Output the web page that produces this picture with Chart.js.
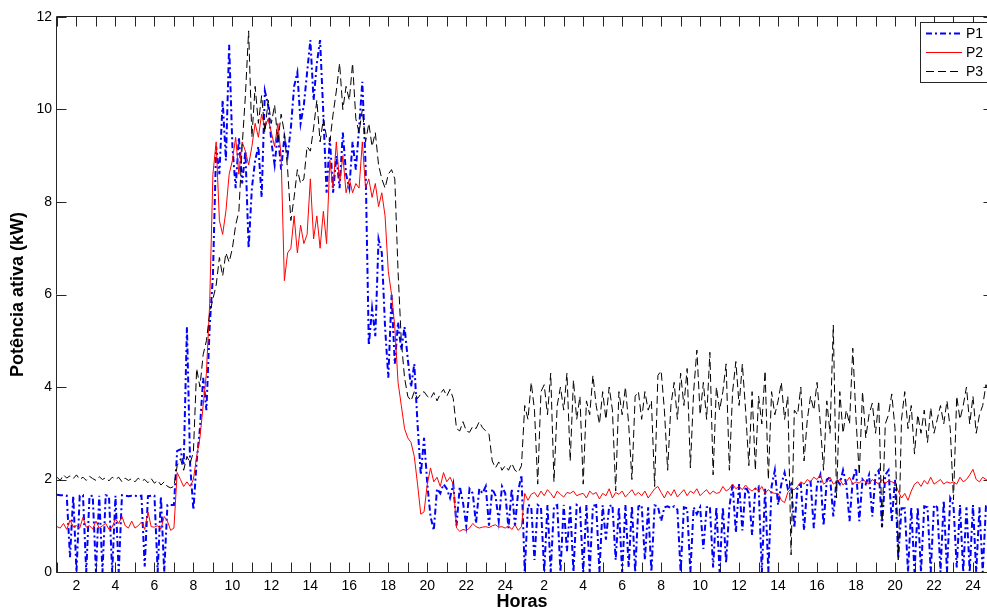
<!DOCTYPE html>
<html>
<head>
<meta charset="utf-8">
<script src="https://cdn.jsdelivr.net/npm/chart.js@4/dist/chart.umd.min.js"></script>
<style>
  html, body { margin: 0; padding: 0; background: #fff; }
  #wrap { width: 987px; height: 615px; }
</style>
</head>
<body>
<div id="wrap"><canvas id="chart" width="987" height="615"></canvas></div>
<script>
// Two days of active power, sampled every 10 minutes starting at hour 1.
// One row per hour (6 samples).
const startHour = 1;
const samplesPerHour = 6;

const seriesNames = ['P1', 'P2', 'P3'];

const p1 = [
  1.67,1.66,1.66,1.65,0.32,1.65,
  0,1.65,1.66,0,1.64,1.65,
  0,1.65,0,1.66,1.64,0,
  1.65,0,1.66,1.65,1.64,1.65,
  1.65,1.64,1.65,0.12,1.64,1.65,
  1.65,0,1.64,0,1.45,1.45,
  1.45,2.62,2.65,2.3,5.3,2.3,
  1.34,2.4,3.1,4.2,3.5,5.3,
  6.4,9.2,8.6,10.2,8.9,11.4,
  9.2,8.3,9.4,8.4,9.1,7.0,
  8.3,8.9,9.2,8.1,10.4,10.1,
  9.3,8.8,9.5,8.7,9.4,9.0,
  9.6,10.5,10.8,9.7,10.1,10.8,
  11.5,10.2,11.0,11.5,9.9,8.2,
  9.4,8.2,9.0,8.3,9.5,8.6,
  8.3,9.3,8.7,9.6,10.6,8.8,
  4.9,5.7,5.1,7.2,6.9,5.3,
  4.2,6.0,4.5,5.4,4.8,5.3,
  4.6,4.0,4.5,3.2,2.1,2.9,
  1.9,1.2,0.9,1.8,1.7,1.9,
  1.8,1.6,1.9,1.0,1.85,1.5,
  1.0,1.8,1.7,1.05,1.8,1.7,
  1.85,1.0,1.8,1.65,1.1,1.85,
  1.7,0.95,1.8,1.0,1.75,2.1,
  0,1.45,1.42,0.26,1.45,1.4,
  0,1.45,0,1.42,1.45,0,
  1.45,0.45,1.42,0,1.45,1.4,
  0,1.45,0,1.43,1.45,0,
  1.44,0.7,1.42,1.45,0.26,1.4,
  0,1.45,0.1,1.43,0,1.42,
  1.45,0.26,1.4,0,1.44,1.42,
  1.1,1.4,1.42,1.38,1.42,1.35,
  0,1.4,1.38,0,1.4,1.25,
  1.4,0.5,1.4,1.42,0.1,1.4,
  0,1.4,0.2,1.4,1.9,0.85,
  1.9,0.9,1.85,1.7,0.8,1.8,
  1.85,0,1.8,0,1.85,2.2,
  1.45,1.9,2.15,1.8,1.9,0.95,
  1.85,1.9,0.9,1.9,1.95,0.95,
  1.9,2.1,1.0,2.0,2.05,1.2,
  2.0,1.9,2.2,1.9,1.1,2.0,
  2.25,1.1,2.0,1.9,2.1,1.2,
  2.1,2.2,0.97,2.1,2.2,1.1,
  2.0,0.3,1.38,1.38,0,1.4,
  0,1.4,0,1.42,1.4,0,
  1.45,1.4,0,1.55,0,1.6,
  1.45,0.1,1.45,0,1.4,0,
  1.45,0,1.4,0,1.42,1.4
];

const p2 = [
  0.98,0.95,1.05,0.92,1.12,0.98,
  1.0,0.95,1.18,0.97,1.0,0.93,
  1.1,0.95,1.0,1.05,0.92,0.97,
  1.15,1.05,1.2,1.0,0.95,1.1,
  0.95,1.0,1.08,0.92,1.3,0.98,
  0.97,1.0,0.93,1.2,1.1,0.9,
  0.95,2.15,2.0,1.85,1.95,1.85,
  2.0,2.5,2.9,3.6,4.3,5.8,
  8.6,9.3,7.6,7.3,7.8,8.6,
  8.9,9.4,8.6,9.3,9.1,8.8,
  9.2,9.7,9.4,9.9,9.6,9.8,
  9.5,9.2,9.7,9.0,6.3,6.9,
  7.0,7.7,6.9,7.5,7.1,7.3,
  8.5,7.2,7.7,7.0,7.8,7.1,
  8.9,8.3,9.3,8.4,9.0,8.2,
  8.5,8.2,8.4,8.3,9.3,8.3,
  8.5,8.1,8.4,7.9,8.2,7.7,
  6.5,6.0,5.3,4.1,3.6,3.1,
  2.9,2.8,2.5,1.9,1.25,1.3,
  1.9,2.25,1.95,2.05,1.85,2.15,
  1.95,2.05,1.9,0.95,0.88,0.92,
  0.9,0.95,1.05,0.98,0.95,0.97,
  0.98,0.96,1.0,1.02,0.97,0.98,
  0.95,1.0,0.92,1.02,0.9,0.98,
  1.7,1.55,1.68,1.72,1.62,1.75,
  1.65,1.78,1.7,1.6,1.75,1.68,
  1.62,1.72,1.7,1.75,1.65,1.68,
  1.7,1.6,1.75,1.68,1.72,1.58,
  1.7,1.65,1.8,1.6,1.72,1.68,
  1.75,1.62,1.7,1.78,1.66,1.72,
  1.65,1.75,1.6,1.7,1.8,1.85,
  1.72,1.6,1.75,1.65,1.78,1.62,
  1.7,1.78,1.65,1.75,1.7,1.8,
  1.65,1.72,1.78,1.68,1.75,1.7,
  1.72,1.85,1.75,1.8,1.9,1.8,
  1.85,1.78,1.88,1.8,1.75,1.82,
  1.75,1.85,1.7,1.78,1.72,1.7,
  1.7,1.55,1.5,1.72,1.8,1.78,
  1.85,1.95,1.9,2.0,1.95,2.05,
  2.0,2.1,1.9,1.95,2.05,1.9,
  1.95,2.0,1.88,1.95,2.05,1.9,
  1.95,1.92,2.0,1.95,1.9,2.0,
  1.95,1.9,2.0,1.92,1.97,1.95,
  1.92,1.75,1.6,1.7,1.55,1.75,
  1.9,1.95,1.85,1.98,1.9,2.05,
  1.9,1.95,2.0,1.9,1.95,1.92,
  1.95,1.9,2.05,1.95,2.0,2.1,
  2.22,2.0,1.95,2.05,2.0,1.95
];

const p3 = [
  2.05,1.98,2.1,2.03,2.08,2.02,
  2.1,2.0,2.05,1.98,2.07,2.02,
  1.98,2.06,2.0,2.04,1.97,2.05,
  2.0,2.05,1.95,2.03,1.98,2.02,
  1.95,2.03,1.97,2.0,1.93,2.02,
  1.92,1.98,1.88,1.95,1.85,1.82,
  1.85,2.3,2.45,2.2,2.5,2.35,
  2.6,4.4,4.0,4.7,5.0,5.6,
  5.9,6.2,6.8,6.4,6.9,6.7,
  7.0,7.5,7.8,9.2,10.3,11.7,
  9.4,10.5,9.7,10.3,9.5,10.2,
  9.7,10.1,9.3,9.9,9.5,8.7,
  7.6,8.1,8.7,8.4,8.5,9.2,
  9.1,9.6,10.2,9.3,9.8,9.4,
  9.3,9.9,10.4,11.0,10.0,10.5,
  10.2,11.0,9.8,9.5,10.0,9.3,
  9.7,9.2,9.5,8.8,8.5,8.3,
  8.6,8.7,8.5,6.5,5.0,4.2,
  3.8,3.7,3.9,3.75,3.85,3.9,
  3.8,3.75,3.88,3.7,3.85,3.95,
  3.8,3.95,3.75,3.1,3.05,3.25,
  3.05,3.02,3.15,3.1,3.25,3.12,
  3.05,2.98,2.4,2.25,2.38,2.2,
  2.3,2.2,2.35,2.2,2.15,2.3,
  3.6,3.3,4.1,3.5,1.9,3.9,
  4.05,3.4,4.3,1.95,3.6,4.0,
  3.5,4.3,2.4,4.15,3.3,3.8,
  1.9,3.7,3.4,4.25,3.6,3.2,
  3.9,3.3,4.0,3.5,1.75,3.9,
  3.4,4.0,3.2,2.0,3.8,3.9,
  3.3,3.9,3.5,3.7,1.85,4.25,
  4.35,3.5,2.2,3.6,4.1,3.3,
  4.3,3.6,4.4,2.25,3.9,4.8,
  3.4,4.1,3.3,4.75,2.1,4.0,
  3.5,3.9,4.5,2.2,3.9,4.55,
  3.6,4.5,3.5,2.3,3.9,2.2,
  3.8,3.2,4.35,2.0,3.9,3.4,
  3.7,4.1,3.3,3.8,0.37,3.5,
  3.4,4.0,2.4,3.3,3.8,3.5,
  4.1,3.2,2.2,3.7,3.0,5.34,
  1.6,3.9,3.0,3.5,3.2,4.84,
  3.3,2.1,3.9,2.9,3.4,3.65,
  3.0,3.7,0.97,3.2,3.4,3.85,
  3.1,0.26,3.3,3.9,3.1,3.6,
  2.55,3.4,3.0,3.5,2.8,3.55,
  3.0,3.3,3.6,3.2,3.7,3.1,
  1.56,3.8,3.3,3.6,4.0,3.2,
  3.8,3.0,3.4,3.6,4.05,3.9
];

// Hour ticks along the time axis and their labels (clock hour of each day)
const hourTicks = [];
for (let h = 1; h <= 48; h++) hourTicks.push(h);
const hourLabels = [
  '', '2', '', '4', '', '6', '', '8', '', '10', '', '12',
  '', '14', '', '16', '', '18', '', '20', '', '22', '', '24',
  '', '2', '', '4', '', '6', '', '8', '', '10', '', '12',
  '', '14', '', '16', '', '18', '', '20', '', '22', '', '24'
];
const powerTicks = [0, 2, 4, 6, 8, 10, 12];

const xMin = 1, xMax = 48.72;
const FONT = 'Arial, "Liberation Sans", Helvetica, sans-serif';

function toPoints(values) {
  return values.map((v, i) => ({ x: startHour + i / samplesPerHour, y: v }));
}

// Boxed axes with inward tick marks; the right side of the box lies past the canvas edge
const boxAxes = {
  id: 'boxAxes',
  beforeDatasetsDraw(chart) {
    const { ctx, chartArea: a, scales: { x, y } } = chart;
    const L = a.left - 0.5, R = a.right + 6.5, T = a.top - 0.5, B = a.bottom + 0.5;
    ctx.save();
    ctx.strokeStyle = '#262626';
    ctx.lineWidth = 1;
    ctx.beginPath();
    ctx.rect(L, T, R - L, B - T);
    const tl = 10;
    hourTicks.forEach(h => {
      const px = Math.round(x.getPixelForValue(h)) + 0.5;
      ctx.moveTo(px, B); ctx.lineTo(px, B - tl);
      ctx.moveTo(px, T); ctx.lineTo(px, T + tl);
    });
    powerTicks.forEach(v => {
      const py = Math.round(y.getPixelForValue(v)) + 0.5;
      ctx.moveTo(L, py); ctx.lineTo(L + tl, py);
      ctx.moveTo(R, py); ctx.lineTo(R - tl, py);
    });
    ctx.stroke();
    ctx.restore();
  }
};

// Legend box in the upper right corner of the axes
const boxLegend = {
  id: 'boxLegend',
  afterDatasetsDraw(chart) {
    const { ctx } = chart;
    const bx = 920.5, by = 22.5, bw = 90, bh = 60;
    ctx.save();
    ctx.fillStyle = '#ffffff';
    ctx.fillRect(bx, by, bw, bh);
    ctx.strokeStyle = '#262626';
    ctx.lineWidth = 1;
    ctx.strokeRect(bx, by, bw, bh);
    ctx.font = '14px ' + FONT;
    ctx.textBaseline = 'middle';
    chart.data.datasets.forEach((ds, i) => {
      const yy = 33.5 + i * 19;
      ctx.beginPath();
      ctx.strokeStyle = ds.borderColor;
      ctx.lineWidth = ds.borderWidth;
      ctx.setLineDash(ds.borderDash || []);
      ctx.moveTo(926, yy);
      ctx.lineTo(962, yy);
      ctx.stroke();
      ctx.setLineDash([]);
      ctx.fillStyle = '#000';
      ctx.fillText(ds.label, 966, yy + 1);
    });
    ctx.restore();
  }
};

new Chart(document.getElementById('chart'), {
  type: 'line',
  data: {
    datasets: [
      { label: seriesNames[0], data: toPoints(p1), borderColor: '#0000ff', borderWidth: 2,
        borderDash: [6, 3, 2, 3], order: 3 },
      { label: seriesNames[1], data: toPoints(p2), borderColor: '#ff0000', borderWidth: 1,
        order: 2 },
      { label: seriesNames[2], data: toPoints(p3), borderColor: '#000000', borderWidth: 1,
        borderDash: [8, 4], order: 1 }
    ]
  },
  options: {
    responsive: false,
    animation: false,
    devicePixelRatio: 1,
    layout: { padding: { top: 17, right: 0, bottom: 0, left: 0 } },
    elements: {
      point: { radius: 0, hoverRadius: 0 },
      line: { tension: 0, fill: false }
    },
    plugins: { legend: { display: false }, tooltip: { enabled: false } },
    scales: {
      x: {
        type: 'linear',
        min: xMin,
        max: xMax,
        afterBuildTicks: s => { s.ticks = hourTicks.map(v => ({ value: v })); },
        afterFit: s => { s.height = 43; },
        grid: { display: false, drawTicks: false },
        border: { display: false },
        ticks: {
          autoSkip: false,
          maxRotation: 0,
          padding: 6,
          color: '#000',
          font: { family: FONT, size: 14 },
          callback: (v) => hourLabels[hourTicks.indexOf(v)] || ''
        },
        title: {
          display: true,
          text: 'Horas',
          color: '#000',
          font: { family: FONT, size: 18, weight: 'bold' },
          padding: { top: 0, bottom: 2 }
        }
      },
      y: {
        min: 0,
        max: 12,
        afterBuildTicks: s => { s.ticks = powerTicks.map(v => ({ value: v })); },
        afterFit: s => { s.width = 57; },
        grid: { display: false, drawTicks: false },
        border: { display: false },
        ticks: {
          padding: 5,
          color: '#000',
          font: { family: FONT, size: 14 }
        },
        title: {
          display: true,
          text: 'Potência ativa (kW)',
          color: '#000',
          font: { family: FONT, size: 18, weight: 'bold' },
          padding: { top: 7, bottom: 0 }
        }
      }
    }
  },
  plugins: [boxAxes, boxLegend]
});
</script>
</body>
</html>
